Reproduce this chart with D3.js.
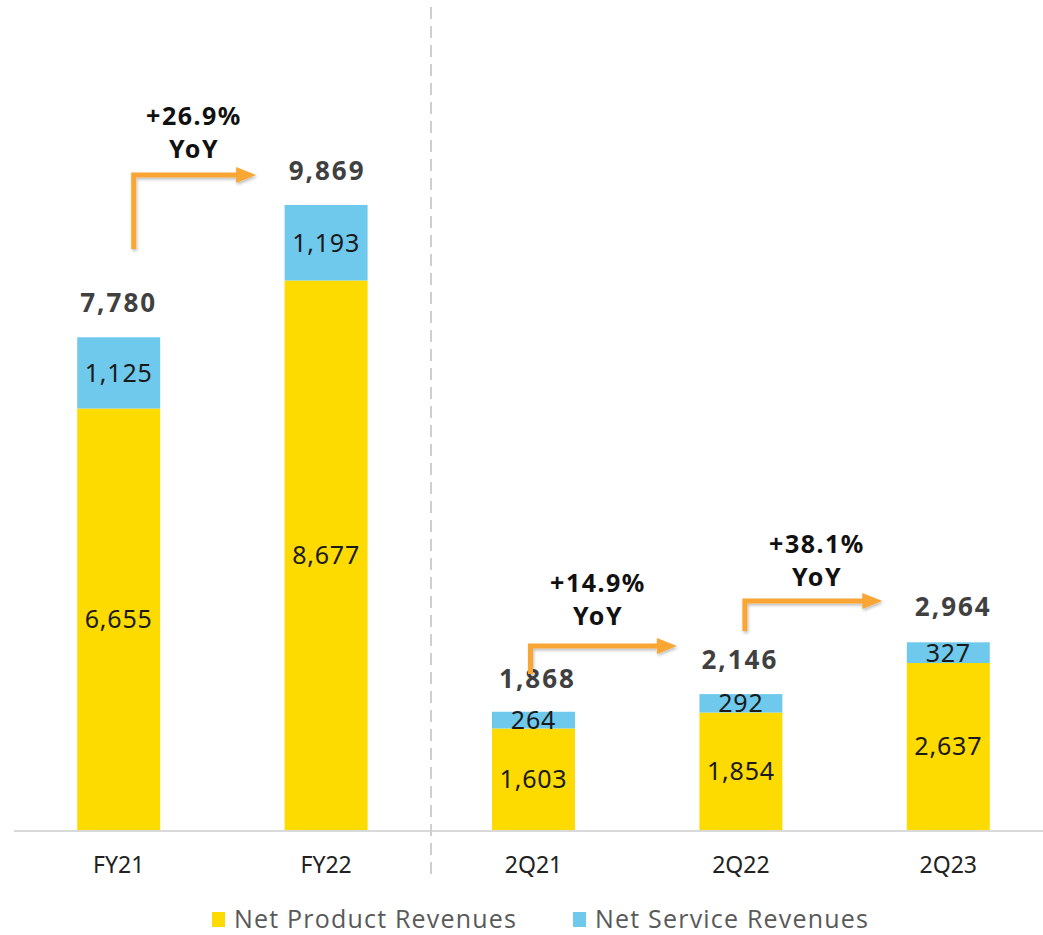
<!DOCTYPE html>
<html>
<head>
<meta charset="utf-8">
<script src="https://cdn.jsdelivr.net/npm/d3@7"></script>
<style>
  body { margin: 0; background: #fff; }
  svg { display: block; }
</style>
</head>
<body>
<div id="chart-area"></div>
<script>
const categories = ["FY21", "FY22", "2Q21", "2Q22", "2Q23"];
const productValues = [6655, 8677, 1603, 1854, 2637];
const serviceValues = [1125, 1193, 264, 292, 327];
const totalValues = [7780, 9869, 1868, 2146, 2964];
const seriesNames = ["Net Product Revenues", "Net Service Revenues"];
const yoyLabels = ["+26.9%", "+14.9%", "+38.1%"];

const W = 1043, H = 935;
const baseY = 830;
const colors = { product: "#FDDA00", service: "#6EC9EC", arrow: "#F9A636" };
const labelFont = "'Noto Sans', sans-serif";

const svg = d3.select("#chart-area")
    .append("svg")
    .attr("width", W)
    .attr("height", H);

const x = d3.scaleBand()
    .domain(categories)
    .range([15, 1052])
    .paddingInner(0.6)
    .paddingOuter(0.3);

const y = d3.scaleLinear()
    .domain([0, 9869])
    .range([baseY, 205]);

const data = categories.map((c, i) => ({
    cat: c, product: productValues[i], service: serviceValues[i], total: totalValues[i]
}));

// baseline
svg.append("line")
    .attr("x1", 14).attr("x2", W)
    .attr("y1", baseY + 1).attr("y2", baseY + 1)
    .attr("stroke", "#d9d9d9")
    .attr("stroke-width", 2);

// divider between annual and quarterly
svg.append("line")
    .attr("x1", 431).attr("x2", 431)
    .attr("y1", 7).attr("y2", 876)
    .attr("stroke", "#cfcfcf")
    .attr("stroke-width", 2)
    .attr("stroke-dasharray", "12,7");

// bars
svg.selectAll("rect.product")
    .data(data)
    .enter()
    .append("rect")
    .attr("class", "product")
    .attr("x", d => x(d.cat))
    .attr("y", d => y(d.product))
    .attr("width", x.bandwidth())
    .attr("height", d => baseY - y(d.product))
    .attr("fill", colors.product);

svg.selectAll("rect.service")
    .data(data)
    .enter()
    .append("rect")
    .attr("class", "service")
    .attr("x", d => x(d.cat))
    .attr("y", d => y(d.product + d.service))
    .attr("width", x.bandwidth())
    .attr("height", d => y(d.product) - y(d.product + d.service))
    .attr("fill", colors.service);

const fmt = d3.format(",");

// segment labels
svg.selectAll("text.plabel")
    .data(data)
    .enter()
    .append("text")
    .attr("x", d => x(d.cat) + x.bandwidth() / 2)
    .attr("y", d => (y(d.product) + baseY) / 2 + 9)
    .attr("text-anchor", "middle")
    .attr("font-family", labelFont)
    .attr("font-size", "25px")
    .attr("letter-spacing", "0.8px")
    .attr("fill", "#1a1a1a")
    .text(d => fmt(d.product));

svg.selectAll("text.slabel")
    .data(data)
    .enter()
    .append("text")
    .attr("x", d => x(d.cat) + x.bandwidth() / 2)
    .attr("y", d => (y(d.product) + y(d.total)) / 2 + 9)
    .attr("text-anchor", "middle")
    .attr("font-family", labelFont)
    .attr("font-size", "25px")
    .attr("letter-spacing", "0.8px")
    .attr("fill", "#1a1a1a")
    .text(d => fmt(d.service));

// totals (placement offsets per bar, as in the slide)
const totalOffsets = [[0, -25], [1, -25], [4, -24], [-1, -25], [5, -26]];
svg.selectAll("text.total")
    .data(data)
    .enter()
    .append("text")
    .attr("x", (d, i) => x(d.cat) + x.bandwidth() / 2 + totalOffsets[i][0])
    .attr("y", (d, i) => y(d.total) + totalOffsets[i][1])
    .attr("text-anchor", "middle")
    .attr("font-family", labelFont)
    .attr("font-size", "26px")
    .attr("font-weight", "bold")
    .attr("letter-spacing", "2px")
    .attr("fill", "#404040")
    .text(d => fmt(d.total));

// x-axis labels
svg.selectAll("text.cat")
    .data(categories)
    .enter()
    .append("text")
    .attr("x", d => x(d) + x.bandwidth() / 2)
    .attr("y", 873)
    .attr("text-anchor", "middle")
    .attr("font-family", labelFont)
    .attr("font-size", "23px")
    .attr("fill", "#222")
    .text(d => d);

// YoY arrows: [from bar, to bar, x start offset, y bottom, y top, x end offset]
const arrows = [
    { from: 0, to: 1, dx: 15, y0: 249, y1: 175, endDx: -70, tx: 194, ty: 125 },
    { from: 2, to: 3, dx: -3, y0: 674, y1: 646, endDx: -64, tx: 598, ty: 592 },
    { from: 3, to: 4, dx: 4, y0: 631, y1: 601, endDx: -66, tx: 817, ty: 553 }
];

const defs = svg.append("defs");
const shadow = defs.append("filter").attr("id", "sh").attr("x", "-20%").attr("y", "-20%").attr("width", "140%").attr("height", "140%");
shadow.append("feDropShadow").attr("dx", 1).attr("dy", 2).attr("stdDeviation", 1.5).attr("flood-opacity", 0.25);

arrows.forEach((a, i) => {
    const xs = x(categories[a.from]) + x.bandwidth() / 2 + a.dx;
    const xe = x(categories[a.to]) + x.bandwidth() / 2 + a.endDx;
    const g = svg.append("g").attr("filter", "url(#sh)");
    g.append("path")
        .attr("d", `M${xs},${a.y0} V${a.y1} H${xe - 18}`)
        .attr("fill", "none")
        .attr("stroke", colors.arrow)
        .attr("stroke-width", 5);
    g.append("path")
        .attr("d", `M${xe - 20},${a.y1 - 8} L${xe},${a.y1} L${xe - 20},${a.y1 + 8} Z`)
        .attr("fill", colors.arrow);

    const t = svg.append("text")
        .attr("x", a.tx)
        .attr("text-anchor", "middle")
        .attr("font-family", labelFont)
        .attr("font-size", "25px")
        .attr("font-weight", "bold")
        .attr("letter-spacing", "1.5px")
        .attr("fill", "#111");
    t.append("tspan").attr("x", a.tx).attr("y", a.ty).text(yoyLabels[i]);
    t.append("tspan").attr("x", a.tx).attr("y", a.ty + 33).text("YoY");
});

// legend
const legend = svg.append("g");
const legendItems = [
    { name: seriesNames[0], color: colors.product, x: 212 },
    { name: seriesNames[1], color: colors.service, x: 573 }
];
legendItems.forEach(l => {
    legend.append("rect")
        .attr("x", l.x).attr("y", 912)
        .attr("width", 13).attr("height", 15)
        .attr("fill", l.color);
    legend.append("text")
        .attr("x", l.x + 22).attr("y", 928)
        .attr("font-family", "'Open Sans', sans-serif")
        .attr("font-size", "25px")
        .attr("letter-spacing", "1.2px")
        .attr("fill", "#595959")
        .text(l.name);
});
</script>
</body>
</html>
